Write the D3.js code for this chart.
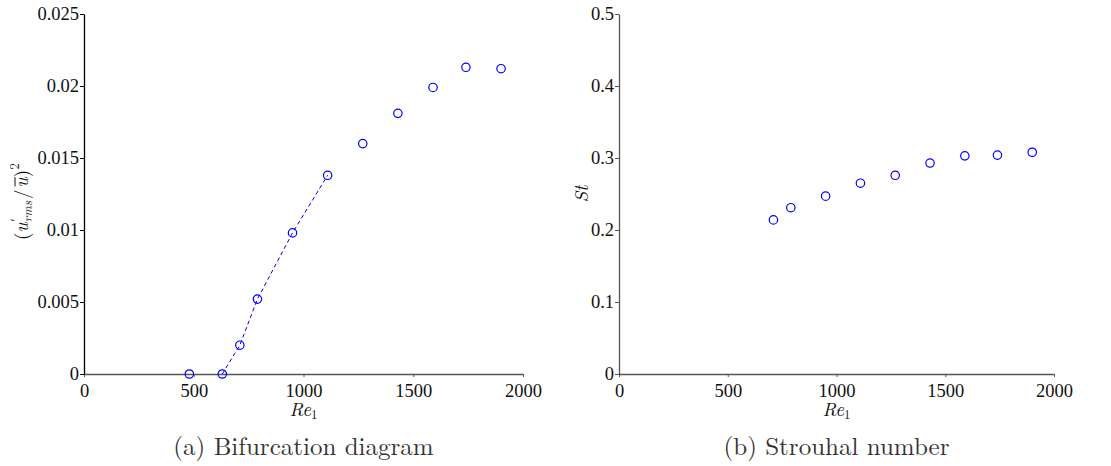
<!DOCTYPE html>
<html><head><meta charset="utf-8">
<script src="https://cdn.jsdelivr.net/npm/d3@7"></script>
<style>
body{margin:0;background:#fff;}
</style></head>
<body><svg id="c" width="1111" height="466"></svg>
<script>
// ---- data ----
const reBif = [480, 630, 710, 790, 950, 1110, 1270, 1430, 1590, 1740, 1900];
const ampBif = [0, 0, 0.002, 0.0052, 0.0098, 0.0138, 0.0160, 0.0181, 0.0199, 0.0213, 0.0212];
const reFit = [630, 710, 790, 950, 1110];
const ampFit = [0, 0.002, 0.0052, 0.0098, 0.0138];
const reSt = [710, 790, 950, 1110, 1270, 1430, 1590, 1740, 1900];
const stVals = [0.214, 0.231, 0.247, 0.265, 0.276, 0.293, 0.303, 0.304, 0.308];
const xTicks = [0, 500, 1000, 1500, 2000];
const yTicksA = [0, 0.005, 0.01, 0.015, 0.02, 0.025];
const yTickLabelsA = ["0", "0.005", "0.01", "0.015", "0.02", "0.025"];
const yTicksB = [0, 0.1, 0.2, 0.3, 0.4, 0.5];
const yTickLabelsB = ["0", "0.1", "0.2", "0.3", "0.4", "0.5"];

const TIMES = '"Liberation Serif"';
const LM = '"Latin Modern Roman"';
const svg = d3.select("#c");
const blue = "#0000ff";

function panel(opts){
  const g = svg.append("g");
  const x = d3.scaleLinear().domain([0,2000]).range([opts.x0, opts.x1]);
  const y = d3.scaleLinear().domain(opts.ydom).range([opts.y0, opts.y1]);
  const xa = g.append("g").attr("transform",`translate(0,${opts.y0})`)
    .call(d3.axisBottom(x).tickValues(xTicks).tickFormat(d3.format("d")).tickSize(3).tickSizeOuter(0).tickPadding(7));
  xa.attr("font-family",null);
  xa.select(".domain").attr("stroke","#555").attr("stroke-width",1.3);
  xa.selectAll(".tick line").attr("stroke","#555");
  xa.selectAll(".tick text").attr("font-size",18.5).attr("fill","#111").style("font-family",TIMES);
  const ya = g.append("g").attr("transform",`translate(${opts.x0},0)`)
    .call(d3.axisLeft(y).tickValues(opts.yticks).tickFormat((d,i)=>opts.ylabels[i]).tickSize(4).tickSizeOuter(0).tickPadding(1));
  ya.attr("font-family",null);
  ya.select(".domain").attr("stroke",opts.yaxisColor).attr("stroke-width",1.3);
  ya.selectAll(".tick line").attr("stroke",opts.yaxisColor);
  ya.selectAll(".tick text").attr("font-size",18.5).attr("fill","#111").style("font-family",TIMES);
  const xl = g.append("text").attr("x",(opts.x0+opts.x1)/2).attr("y",opts.y0+42)
    .attr("text-anchor","middle").attr("font-size",19).attr("fill","#111").style("font-family",LM);
  xl.append("tspan").attr("font-style","italic").text("Re");
  xl.append("tspan").attr("font-size",13).attr("dy",3).text("1");
  g.append("text").attr("x",(opts.x0+opts.x1)/2).attr("y",opts.y0+81)
    .attr("text-anchor","middle").attr("font-size",25).attr("fill","#333").style("font-family",LM).text(opts.caption);
  return {g,x,y};
}

// Panel (a)
const A = panel({x0:84,x1:523,y0:374,y1:14,ydom:[0,0.025],yticks:yTicksA,ylabels:yTickLabelsA,
  yaxisColor:"#000",caption:"(a) Bifurcation diagram"});
const fit = reFit.map((r,i)=>[r,ampFit[i]]);
A.g.append("path").datum(fit)
  .attr("d",d3.line().x(d=>A.x(d[0])).y(d=>A.y(d[1])))
  .attr("fill","none").attr("stroke",blue).attr("stroke-width",1).attr("stroke-dasharray","4,3");
A.g.selectAll("circle.a").data(reBif.map((r,i)=>[r,ampBif[i]])).enter().append("circle")
  .attr("cx",d=>A.x(d[0])).attr("cy",d=>A.y(d[1])).attr("r",4.2)
  .attr("fill","none").attr("stroke",blue).attr("stroke-width",1.2);

// y label (a): built piece by piece in a rotated group
const ylg = A.g.append("g").attr("transform","translate(28,240) rotate(-90)");
const yl = ylg.append("text").attr("x",0).attr("y",0).attr("font-size",19).attr("fill","#111").style("font-family",LM);
yl.append("tspan").text("(");
yl.append("tspan").attr("font-style","italic").text("u");
yl.append("tspan").attr("font-size",14).attr("dy",-7).attr("dx",1).text("′");
yl.append("tspan").attr("font-size",13).attr("font-style","italic").attr("dy",11).attr("dx",-4).text("rms");
yl.append("tspan").attr("dy",-4).attr("dx",2).text("/");
yl.append("tspan").attr("font-style","italic").attr("dx",2).text("u");
yl.append("tspan").text(")");
yl.append("tspan").attr("font-size",13).attr("dy",-9).text("2");
const uNode = yl.selectAll("tspan").nodes()[5];
try {
  const n = uNode.getNumberOfChars();
  const s = uNode.getStartPositionOfChar(0), e = uNode.getEndPositionOfChar(n-1);
  ylg.append("line").attr("x1",s.x+1).attr("x2",e.x).attr("y1",s.y-13).attr("y2",s.y-13)
    .attr("stroke","#111").attr("stroke-width",1);
} catch(err) {}

// Panel (b)
const B = panel({x0:619,x1:1054,y0:374,y1:14,ydom:[0,0.5],yticks:yTicksB,ylabels:yTickLabelsB,
  yaxisColor:"#555",caption:"(b) Strouhal number"});
B.g.selectAll("circle.b").data(reSt.map((r,i)=>[r,stVals[i]])).enter().append("circle")
  .attr("cx",d=>B.x(d[0])).attr("cy",d=>B.y(d[1])).attr("r",4.2)
  .attr("fill","none").attr("stroke",blue).attr("stroke-width",1.2);
B.g.append("text").attr("transform","translate(588,194) rotate(-90)")
  .attr("text-anchor","middle").attr("font-size",19).attr("font-style","italic").attr("fill","#111")
  .style("font-family",LM).text("St");
</script></body></html>
